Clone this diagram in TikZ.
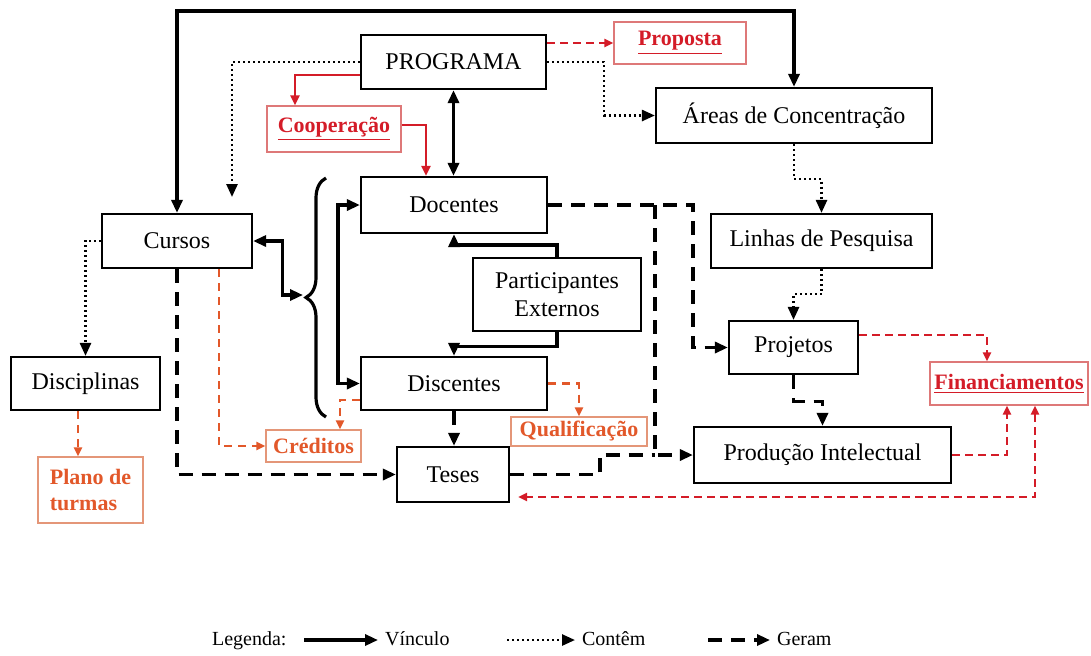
\documentclass[tikz,border=0pt]{standalone}
\usepackage{fontspec}
\setmainfont{Liberation Serif}
\usepackage{tikz}
\usetikzlibrary{arrows.meta,decorations.pathreplacing}
\definecolor{vermelho}{RGB}{212,28,40}
\definecolor{laranja}{RGB}{226,88,42}
\definecolor{bordaverm}{RGB}{222,120,120}
\definecolor{bordalar}{RGB}{228,150,120}

\begin{document}
\begin{tikzpicture}[x=0.5pt,y=-0.5pt,
  >={Triangle[length=6.5pt,width=5.5pt]},
  caixa/.style n args={2}{draw,line width=1.1pt,minimum width=#1,minimum height=#2,inner sep=0pt,font=\fontsize{12}{14}\selectfont},
  caixaverm/.style n args={2}{draw=bordaverm,line width=0.6pt,minimum width=#1,minimum height=#2,inner sep=0pt,text=vermelho,font=\fontsize{11}{13}\selectfont\bfseries},
  caixalar/.style n args={2}{draw=bordalar,line width=0.6pt,minimum width=#1,minimum height=#2,inner sep=0pt,text=laranja,font=\fontsize{11}{13}\selectfont\bfseries},
  vinculo/.style={line width=1.6pt},
  contem/.style={line width=1.3pt,dash pattern=on 1pt off 1.5pt},
  geram/.style={line width=1.6pt,dash pattern=on 7pt off 4.5pt},
  vinculoverm/.style={vermelho,line width=1.3pt,>={Triangle[length=5pt,width=4.5pt]}},
  tracejverm/.style={vermelho,line width=1.1pt,dash pattern=on 4pt off 2.5pt,>={Triangle[length=4.5pt,width=4pt]}},
  tracejlar/.style={laranja,line width=1.1pt,dash pattern=on 4pt off 3pt,>={Triangle[length=4.5pt,width=4pt]}},
  legenda/.style={font=\fontsize{10}{12}\selectfont,text height=7.5pt,text depth=2.5pt}]
\useasboundingbox (0,0) rectangle (1091,655);

\node (programa) [caixa={92.5pt}{27pt}] at (453.5,62) {PROGRAMA};
\node (proposta) [caixaverm={66pt}{21pt}] at (680,43) {\underline{Proposta}};
\node (cooperacao) [caixaverm={67pt}{23pt}] at (334,129) {\underline{Cooperação}};
\node (areas) [caixa={138pt}{27.5pt}] at (794,115.5) {Áreas de Concentração};
\node (linhas) [caixa={110.5pt}{27pt}] at (821.5,241) {Linhas de Pesquisa};
\node (cursos) [caixa={75pt}{27pt}] at (177,241) {Cursos};
\node (docentes) [caixa={93pt}{28pt}] at (454,205) {Docentes};
\node (externos) [caixa={84pt}{36.5pt},align=center] at (557,294.5) {Participantes\\Externos};
\node (discentes) [caixa={93pt}{26.5pt}] at (454,383.5) {Discentes};
\node (disciplinas) [caixa={74.5pt}{26.5pt}] at (85.5,383.5) {Disciplinas};
\node (plano) [caixalar={52.5pt}{33pt},align=left] at (90.5,490) {Plano de\\turmas};
\node (creditos) [caixalar={47.5pt}{16pt}] at (313.5,446) {Créditos};
\node (qualif) [caixalar={68pt}{14.5pt}] at (579,431.5) {Qualificação};
\node (teses) [caixa={56pt}{27.5pt}] at (453,474.5) {Teses};
\node (projetos) [caixa={64.5pt}{26.5pt}] at (793.5,347.5) {Projetos};
\node (producao) [caixa={128.5pt}{28pt}] at (822.5,455) {Produção Intelectual};
\node (financ) [caixaverm={79pt}{21.5pt}] at (1009,383.5) {\underline{Financiamentos}};
\coordinate (contemfim) at (232,197);
\coordinate (chave) at (303,295);

\draw[vinculo,<->] (cursos.north) -- ++(0,-202) -| (areas.north);
\draw[tracejverm,->] (programa.east |- proposta.west) -- (proposta.west);
\draw[contem,->] (programa.east) -- ++(57,0) |- (areas.west);
\draw[contem,->] (programa.west) -| (contemfim);
\draw[vinculoverm,->] (programa.west |- 0,75) -| (295,0 |- cooperacao.north);
\draw[vinculoverm,->] (cooperacao.east |- 0,125) -| (426,0 |- docentes.north);
\draw[vinculo,<->] (programa.south) -- (programa.south |- docentes.north);
\draw[vinculo,<->] (cursos.east) -- ++(29,0) |- (chave);
\draw[vinculo,decorate,decoration={brace,amplitude=10pt}] (326,417) -- (326,178);
\draw[vinculo,<->] (docentes.west) -- ++(-22,0) |- (discentes.west);
\draw[vinculo,->] (externos.north) -- ++(0,-12) -| (docentes.south);
\draw[vinculo,->] (externos.south) -- ++(0,14) -| (discentes.north);
\draw[contem,->] (cursos.west) -- ++(-18,0) -| (disciplinas.north);
\draw[tracejlar,->] (78,0 |- disciplinas.south) -- (78,0 |- plano.north);
\draw[geram,->] (cursos.south) |- (teses.west);
\draw[tracejlar,->] (219,0 |- cursos.south) |- (creditos.west);
\draw[tracejlar,->] (discentes.west |- 0,400) -| (340,0 |- creditos.north);
\draw[geram,->] (discentes.south) -- (discentes.south |- teses.north);
\draw[tracejlar,->] (discentes.east) -| (qualif.north);
\draw[geram,->] (docentes.east) -| (693,300) |- (projetos.west);
\draw[geram,->] (655,0 |- docentes.east) |- (producao.west);
\draw[geram] (teses.east) -| (600,465) |- (655,0 |- producao.west);
\draw[contem,->] (areas.south) -- ++(0,35) -| (linhas.north);
\draw[contem,->] (linhas.south) -- ++(0,25) -| (projetos.north);
\draw[geram,->] (projetos.south) -- ++(0,26) -| (producao.north);
\draw[tracejverm,->] (projetos.east |- 0,335) -| (987,0 |- financ.north);
\draw[tracejverm,->] (producao.east) -| (1007,0 |- financ.south);
\draw[tracejverm,<->,shorten >=4pt] (1035,0 |- financ.south) |- (teses.east |- 0,497);

\node (legtitulo) [legenda,anchor=west] at (205,640) {Legenda:};
\node (legvinculo) [legenda,anchor=west] at (378,640) {Vínculo};
\node (legcontem) [legenda,anchor=west] at (575,640) {Contêm};
\node (leggeram) [legenda,anchor=west] at (770,640) {Geram};
\draw[vinculo,->] ([xshift=-37pt]legvinculo.west) -- (legvinculo.west);
\draw[contem,->] ([xshift=-34pt]legcontem.west) -- (legcontem.west);
\draw[geram,->] ([xshift=-31pt]leggeram.west) -- (leggeram.west);
\end{tikzpicture}
\end{document}
